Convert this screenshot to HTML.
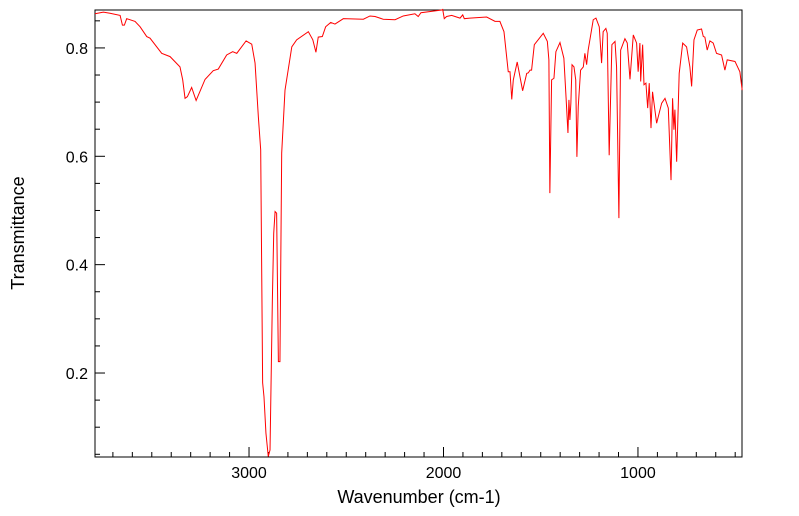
<!DOCTYPE html>
<html><head><meta charset="utf-8"><style>
html,body{margin:0;padding:0;background:#fff;}
svg{display:block;font-family:"Liberation Sans","DejaVu Sans",sans-serif;}
</style></head><body>
<svg id="chart" width="799" height="516">
<rect x="95" y="10" width="647" height="447" fill="#fff" stroke="#000" stroke-width="1"/>
<g id="ticks"></g>
<path id="line" fill="none" stroke="#ff0000" stroke-width="1"/>
<text x="419" y="503" text-anchor="middle" font-size="18">Wavenumber (cm-1)</text>
<text x="24" y="233" text-anchor="middle" font-size="18" transform="rotate(-90 24 233)">Transmittance</text>
</svg>
<script>
const wavenumbers=[3792,3749,3715,3663,3651,3641,3629,3586,3560,3526,3509,3449,3406,3355,3341,3329,3317,3295,3272,3226,3184,3158,3115,3084,3063,3015,2986,2969,2952,2940,2930,2923,2913,2901,2892,2880,2873,2866,2858,2849,2841,2832,2815,2780,2755,2695,2672,2656,2644,2623,2606,2580,2558,2515,2412,2378,2352,2310,2249,2207,2147,2130,2116,2009,2004,1996,1984,1958,1915,1901,1893,1864,1778,1735,1710,1689,1667,1658,1649,1641,1621,1593,1572,1564,1555,1547,1533,1487,1466,1458,1453,1444,1432,1422,1401,1381,1370,1360,1355,1350,1345,1339,1329,1320,1314,1307,1295,1281,1273,1264,1256,1230,1216,1199,1187,1179,1165,1158,1148,1134,1118,1110,1098,1089,1067,1055,1041,1024,1007,999,990,986,976,969,959,950,942,933,925,904,878,861,844,830,822,815,810,801,788,770,750,733,724,712,695,673,664,656,644,630,613,596,570,553,541,501,476,464];
const transmittance=[0.863,0.866,0.864,0.860,0.842,0.842,0.854,0.849,0.839,0.821,0.818,0.790,0.784,0.765,0.741,0.707,0.710,0.727,0.703,0.742,0.758,0.761,0.787,0.793,0.790,0.813,0.807,0.772,0.673,0.612,0.182,0.156,0.089,0.046,0.058,0.335,0.458,0.498,0.495,0.221,0.221,0.606,0.722,0.802,0.815,0.830,0.815,0.792,0.820,0.821,0.839,0.847,0.844,0.854,0.853,0.859,0.858,0.853,0.852,0.859,0.863,0.858,0.865,0.870,0.871,0.854,0.858,0.860,0.855,0.861,0.854,0.855,0.857,0.849,0.849,0.830,0.756,0.756,0.705,0.741,0.774,0.721,0.753,0.754,0.759,0.759,0.806,0.827,0.812,0.778,0.532,0.741,0.744,0.793,0.810,0.781,0.710,0.643,0.704,0.667,0.698,0.769,0.765,0.741,0.599,0.692,0.759,0.765,0.790,0.769,0.796,0.852,0.855,0.839,0.772,0.830,0.836,0.827,0.602,0.806,0.812,0.765,0.486,0.796,0.817,0.809,0.742,0.824,0.809,0.756,0.809,0.738,0.806,0.732,0.735,0.689,0.735,0.652,0.719,0.661,0.698,0.707,0.689,0.556,0.707,0.649,0.686,0.590,0.753,0.809,0.802,0.765,0.729,0.815,0.833,0.835,0.821,0.820,0.796,0.813,0.809,0.790,0.787,0.759,0.778,0.775,0.756,0.722];
const xTickLabels=[3000,2000,1000];
const yTickLabels=["0.2","0.4","0.6","0.8"];
const X0=95,X1=742,Y0=457,Y1=10,WMAX=3792,WMIN=465,TMIN=0.045,TMAX=0.870;
function sx(w){return X0+(WMAX-w)/(WMAX-WMIN)*(X1-X0);}
function sy(t){return Y0-(t-TMIN)/(TMAX-TMIN)*(Y0-Y1);}
const NS="http://www.w3.org/2000/svg";
let d="";
for(let i=0;i<wavenumbers.length;i++){d+=(i?"L":"M")+sx(wavenumbers[i]).toFixed(2)+" "+sy(transmittance[i]).toFixed(2);}
document.getElementById("line").setAttribute("d",d);
const g=document.getElementById("ticks");
function ln(x1,y1,x2,y2,name){const l=document.createElementNS(NS,"line");l.setAttribute("x1",x1);l.setAttribute("y1",y1);l.setAttribute("x2",x2);l.setAttribute("y2",y2);l.setAttribute("stroke","#000");l.setAttribute("stroke-width","1");


g.appendChild(l);}
function tx(x,y,s,anchor,name){const t=document.createElementNS(NS,"text");t.setAttribute("x",x);t.setAttribute("y",y);t.setAttribute("text-anchor",anchor);t.setAttribute("font-size","16");t.textContent=s;


g.appendChild(t);}
for(let w=500;w<=3700;w+=100){const x=sx(w);const major=w%1000===0;ln(x,Y0,x,Y0-(major?10:5),major?"x-major-tick":"x-minor-tick");}
xTickLabels.forEach(w=>tx(sx(w),478,String(w),"middle","x-tick-label"));
for(let k=1;k<=17;k++){const t=k*0.05;const y=sy(t);if(y<Y1||y>Y0)continue;const major=(k%4===0);ln(X0,y,X0+(major?10:5),y,major?"y-major-tick":"y-minor-tick");}
yTickLabels.forEach(s=>tx(88,sy(parseFloat(s))+6,s,"end","y-tick-label"));
</script>
</body></html>
